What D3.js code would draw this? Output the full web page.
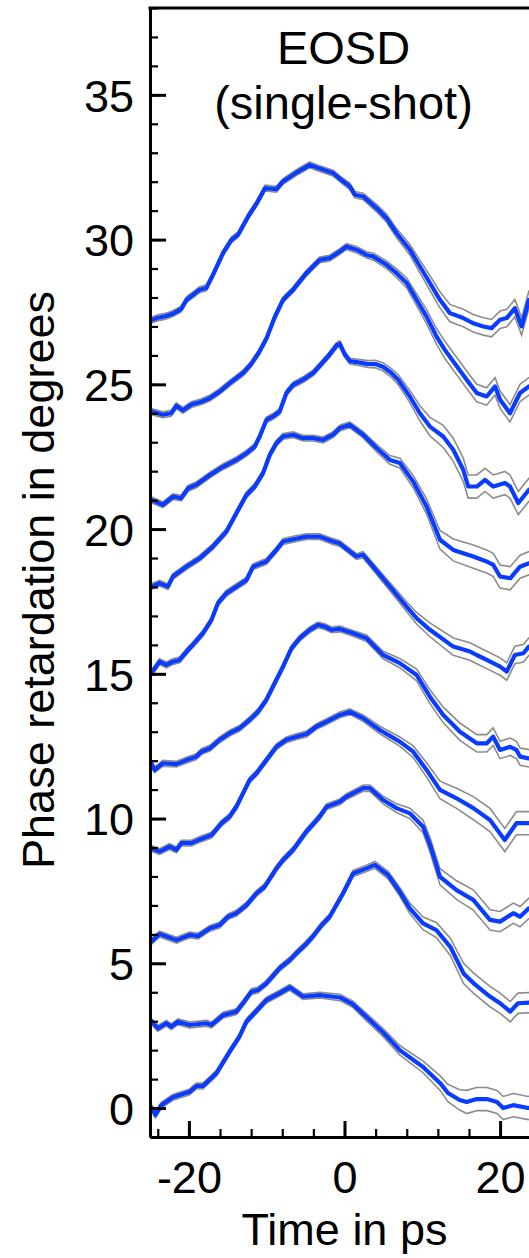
<!DOCTYPE html>
<html>
<head>
<meta charset="utf-8">
<script src="https://cdn.jsdelivr.net/npm/d3@7"></script>
<style>
  body { margin: 0; background: #fff; }
  svg { display: block; font-family: "Liberation Sans", Arial, Helvetica, sans-serif; }
  .axis path, .axis line { stroke: #000; }
  .axis text { font-size: 45px; fill: #000; font-family: "Liberation Sans", Arial, Helvetica, sans-serif; }
  .label { font-size: 45px; fill: #000; }
  .title { font-size: 47px; fill: #000; }
  .env { fill: none; stroke: #8c8c8c; stroke-width: 1.6; }
  .trace { fill: none; stroke: #0a3cff; stroke-width: 4.2; stroke-linejoin: round; }
</style>
</head>
<body>
<script>
// each trace: [time in ps, phase in degrees, half width of grey band]
// traces are stacked with 3 degree offsets (already included)
const trace0 = [[-25,0.05,0.1],[-24.76,-0.01,0.1],[-24.3,-0.24,0.1],[-23.55,0.1,0.1],[-22.06,0.37,0.1],[-19.9,0.56,0.1],[-19.05,0.76,0.1],[-18.2,0.76,0.1],[-16.47,1.2,0.1],[-14.76,1.95,0.1],[-13.5,2.47,0.1],[-12.6,2.99,0.1],[-11.1,3.42,0.1],[-10.04,3.73,0.1],[-8.33,3.97,0.1],[-7.04,4.17,0.1],[-5.33,3.85,0.1],[-3.18,3.9,0.1],[-0.6,3.82,0.11],[1,3.6,0.11],[3,3.1,0.13],[5,2.6,0.14],[7.1,2.0,0.16],[10.1,1.42,0.2],[12.3,0.86,0.25],[13.3,0.52,0.3],[14.8,0.28,0.35],[15.7,0.21,0.4],[17.0,0.31,0.4],[18.3,0.31,0.4],[19.6,0.21,0.4],[20.4,0.0,0.4],[21.7,0.1,0.4],[23.6,0.0,0.4],[24.5,0.05,0.4]];
const trace1 = [[-25,3.0,0.1],[-24.76,2.98,0.1],[-23.99,2.75,0.1],[-22.9,2.93,0.1],[-22.26,2.81,0.1],[-21.4,2.98,0.1],[-19.9,2.87,0.1],[-17.76,2.93,0.1],[-17.1,2.87,0.1],[-15.6,3.21,0.1],[-13.9,3.33,0.1],[-13.05,3.62,0.1],[-11.97,4.02,0.1],[-11.1,4.08,0.1],[-10.04,4.31,0.1],[-8.33,4.83,0.1],[-7.04,5.11,0.1],[-6,5.4,0.1],[-5,5.65,0.1],[-4,5.95,0.1],[-3,6.3,0.1],[-1.9,6.61,0.1],[-0.18,7.42,0.1],[1.1,8.1,0.11],[2.83,8.28,0.11],[3.9,8.4,0.12],[5.6,8.05,0.13],[7.1,7.47,0.15],[8.4,6.9,0.18],[10.1,6.38,0.22],[11.8,6.15,0.26],[13.6,5.57,0.3],[15.3,4.65,0.35],[16.6,4.31,0.35],[18.7,3.85,0.35],[20.0,3.62,0.35],[21.3,3.33,0.35],[22.3,3.62,0.35],[23.7,3.64,0.35],[24.5,3.6,0.35]];
const trace2 = [[-25,5.8,0.1],[-24.84,5.75,0.1],[-23.77,6.01,0.1],[-21.6,5.8,0.1],[-19.9,5.98,0.1],[-18.8,5.94,0.1],[-17.3,6.21,0.1],[-16.05,6.32,0.1],[-14.98,6.61,0.1],[-13.9,6.73,0.1],[-12.6,7.01,0.1],[-11.3,7.42,0.1],[-10.26,7.65,0.1],[-8.75,8.28,0.1],[-7.9,8.57,0.1],[-6.6,8.92,0.1],[-4.9,9.55,0.1],[-3.18,10.07,0.1],[-2.3,10.41,0.1],[-0.6,10.58,0.1],[0.26,10.76,0.1],[2.4,11.05,0.11],[3.26,11.05,0.11],[4.97,10.64,0.13],[6.69,10.36,0.15],[8.4,10.18,0.18],[10.1,9.72,0.22],[11.0,9.09,0.25],[12.27,7.99,0.28],[14.4,7.53,0.32],[16.55,7.19,0.35],[18.7,6.5,0.35],[20.0,6.44,0.35],[21.7,6.73,0.35],[22.56,6.61,0.35],[23.7,6.9,0.35],[24.5,6.9,0.35]];
const trace3 = [[-25,9.0,0.1],[-24.84,8.97,0.1],[-23.77,8.86,0.1],[-22.5,9.03,0.1],[-21.6,8.92,0.1],[-20.98,9.15,0.1],[-19.7,9.15,0.1],[-18.6,9.28,0.1],[-17.1,9.43,0.1],[-15.8,9.84,0.1],[-14.76,10.07,0.1],[-13.9,10.41,0.1],[-13.05,10.87,0.1],[-12.19,11.33,0.1],[-11.33,11.56,0.1],[-10.04,12.02,0.1],[-8.75,12.48,0.1],[-7.47,12.72,0.1],[-6.18,12.83,0.1],[-4.89,12.92,0.1],[-3.6,13.18,0.1],[-2.3,13.35,0.1],[-0.6,13.58,0.1],[0.68,13.69,0.1],[2.39,13.47,0.11],[4.54,13.06,0.13],[7.1,12.66,0.16],[8.83,12.31,0.2],[10.55,11.68,0.25],[12.27,10.99,0.3],[14.4,10.7,0.35],[16.56,10.36,0.4],[18.7,9.95,0.4],[20.6,9.26,0.4],[22.1,9.84,0.4],[23.7,9.84,0.4],[24.5,9.8,0.4]];
const trace4 = [[-25,11.95,0.1],[-24.84,11.91,0.1],[-24.4,11.68,0.1],[-23.35,11.91,0.1],[-21.6,11.88,0.1],[-20.3,12.02,0.1],[-19.05,12.14,0.1],[-18.4,12.31,0.1],[-17.3,12.43,0.1],[-16.05,12.72,0.1],[-14.76,12.95,0.1],[-13.48,13.12,0.1],[-12.19,13.41,0.1],[-11.12,13.69,0.1],[-10.04,14.1,0.1],[-9.19,14.56,0.1],[-7.9,15.25,0.1],[-6.82,15.88,0.1],[-5.75,16.23,0.1],[-4.47,16.52,0.1],[-3.4,16.69,0.1],[-2.54,16.63,0.1],[-1.67,16.52,0.1],[-0.6,16.55,0.1],[1.1,16.4,0.1],[2.83,16.23,0.11],[4.97,15.65,0.13],[7.1,15.37,0.16],[9.27,14.96,0.2],[10.98,14.21,0.24],[12.69,13.58,0.27],[14.84,13.0,0.3],[17.0,12.6,0.3],[18.3,12.6,0.3],[19.1,12.83,0.3],[20.0,12.37,0.3],[21.3,12.48,0.3],[22.1,12.37,0.3],[22.56,12.14,0.3],[23.7,12.08,0.3],[24.5,12.1,0.3]];
const trace5 = [[-25,15.05,0.1],[-24.84,15.02,0.1],[-23.77,15.42,0.1],[-22.9,15.31,0.1],[-22.05,15.42,0.1],[-21.2,15.48,0.1],[-20.1,15.83,0.1],[-19.5,16.0,0.1],[-18.2,16.4,0.1],[-17.1,16.86,0.1],[-16.27,17.44,0.1],[-15.19,17.78,0.1],[-13.9,18.01,0.1],[-12.6,18.24,0.1],[-11.76,18.7,0.1],[-10.04,18.88,0.1],[-8.75,19.28,0.1],[-7.9,19.57,0.1],[-6.6,19.65,0.1],[-4.89,19.74,0.1],[-3.18,19.74,0.1],[-1.47,19.57,0.1],[-0.6,19.5,0.1],[1.54,19.05,0.1],[2.39,19.11,0.11],[3.68,18.7,0.12],[5.83,18.01,0.14],[7.98,17.32,0.17],[9.27,16.92,0.2],[10.98,16.52,0.24],[13.98,15.94,0.3],[16.13,15.77,0.3],[16.99,15.65,0.3],[18.28,15.48,0.3],[20.0,15.25,0.3],[20.85,15.08,0.3],[21.9,15.65,0.3],[22.99,15.71,0.3],[23.7,15.94,0.3],[24.5,15.9,0.3]];
const trace6 = [[-25,18.0,0.1],[-24.84,18.01,0.1],[-23.77,18.13,0.1],[-22.7,18.01,0.1],[-22.06,18.36,0.1],[-20.33,18.7,0.1],[-18.62,18.99,0.1],[-16.91,19.4,0.1],[-15.19,19.91,0.1],[-13.9,20.55,0.1],[-12.61,21.18,0.1],[-11.54,21.47,0.1],[-10.48,21.93,0.1],[-9.61,22.56,0.1],[-8.75,22.97,0.1],[-7.9,23.2,0.1],[-6.6,23.26,0.1],[-5.33,23.14,0.1],[-4.04,23.14,0.1],[-2.75,23.08,0.1],[-1.47,23.26,0.1],[-0.6,23.49,0.1],[0.68,23.6,0.1],[2.39,23.26,0.11],[4.12,22.8,0.13],[5.83,22.39,0.15],[7.12,22.28,0.17],[8.83,21.64,0.21],[10.55,20.78,0.26],[12.27,19.63,0.32],[13.98,19.28,0.38],[16.55,19.05,0.4],[18.27,18.88,0.4],[19.13,18.76,0.4],[19.99,18.36,0.4],[21.3,18.3,0.4],[22.56,18.7,0.4],[23.7,18.82,0.4],[24.5,18.8,0.4]];
const trace7 = [[-25,21.0,0.1],[-24.84,21.01,0.1],[-23.35,20.84,0.1],[-22.05,21.12,0.1],[-20.98,21.07,0.1],[-20.1,21.41,0.1],[-19.05,21.53,0.1],[-17.3,21.87,0.1],[-15.58,22.16,0.1],[-13.9,22.39,0.1],[-12.6,22.62,0.1],[-11.54,22.85,0.1],[-10.9,23.2,0.1],[-10.04,23.77,0.1],[-9.19,23.89,0.1],[-8.33,24.06,0.1],[-7.47,24.7,0.1],[-6.6,24.98,0.1],[-5.33,25.16,0.1],[-4,25.4,0.1],[-3,25.7,0.1],[-2,26.0,0.1],[-1,26.35,0.1],[-0.6,26.4,0.1],[0,26.05,0.1],[0.7,25.8,0.1],[2,25.75,0.11],[3,25.7,0.12],[4,25.7,0.13],[5,25.6,0.14],[6,25.4,0.15],[6.9,25.16,0.17],[8.4,24.58,0.21],[9.69,24.0,0.26],[10.98,23.54,0.32],[12.69,23.2,0.38],[13.98,22.74,0.4],[15.26,22.05,0.4],[15.9,21.47,0.4],[17.0,21.47,0.4],[18.06,21.7,0.4],[19.12,21.47,0.4],[20.63,21.59,0.4],[21.27,21.47,0.4],[22.34,20.9,0.4],[23.72,21.36,0.4],[24.5,21.3,0.4]];
const trace8 = [[-25,24.05,0.1],[-24.84,24.06,0.1],[-23.35,23.95,0.1],[-22.27,24.0,0.1],[-21.62,24.26,0.1],[-20.77,24.1,0.1],[-19.69,24.3,0.1],[-18.4,24.4,0.1],[-17.33,24.52,0.1],[-16.05,24.75,0.1],[-14.76,25.04,0.1],[-13,25.4,0.1],[-12,25.7,0.1],[-11,26.1,0.1],[-10,26.6,0.1],[-9,27.3,0.1],[-7.9,27.92,0.1],[-6.6,28.27,0.1],[-4.9,28.84,0.1],[-3.18,29.3,0.1],[-1.9,29.36,0.1],[-0.6,29.59,0.1],[0.26,29.76,0.1],[1.54,29.65,0.11],[2.83,29.47,0.11],[3.68,29.42,0.12],[5.4,29.13,0.13],[6.7,28.84,0.15],[8.0,28.5,0.17],[9.27,27.92,0.2],[10.55,27.34,0.24],[11.84,26.65,0.27],[12.9,26.19,0.3],[15.7,25.16,0.3],[17.0,24.7,0.3],[18.27,24.58,0.3],[19.35,24.93,0.3],[20.0,24.47,0.3],[21.27,24.0,0.3],[22.56,24.7,0.3],[23.7,24.93,0.3],[24.5,24.9,0.3]];
const trace9 = [[-25,27.2,0.1],[-24,27.3,0.1],[-23,27.35,0.1],[-22,27.45,0.1],[-21,27.6,0.1],[-20.3,27.92,0.1],[-18.62,28.27,0.1],[-17.76,28.33,0.1],[-16.91,28.78,0.1],[-15.62,29.53,0.1],[-14.54,29.99,0.1],[-13.68,30.17,0.1],[-12.38,30.8,0.1],[-11.27,31.26,0.1],[-10.2,31.78,0.1],[-8.75,31.74,0.1],[-7.9,32.01,0.1],[-5.97,32.35,0.1],[-4.47,32.58,0.1],[-3.4,32.47,0.1],[-1.47,32.3,0.1],[-0.6,32.1,0.1],[0.68,31.84,0.11],[1.33,31.55,0.11],[2.39,31.49,0.11],[4.12,31.09,0.13],[5.4,30.74,0.14],[6.7,30.22,0.16],[8.4,29.65,0.18],[9.7,29.07,0.22],[10.98,28.5,0.25],[12.27,27.92,0.28],[13.55,27.46,0.3],[15.26,27.29,0.3],[16.55,27.11,0.3],[17.84,27.0,0.3],[18.9,26.94,0.3],[19.99,27.23,0.3],[20.85,27.29,0.3],[21.9,27.63,0.3],[22.77,27.0,0.3],[23.7,27.92,0.3],[24.5,27.9,0.3]];

const traces = [trace0, trace1, trace2, trace3, trace4, trace5, trace6, trace7, trace8, trace9];

const yMajorTicks = [0, 5, 10, 15, 20, 25, 30, 35];
const yMinorTicks = [-1,0,1,2,3,4,5,6,7,8,9,10,11,12,13,14,15,16,17,18,19,20,21,22,23,24,25,26,27,28,29,30,31,32,33,34,35,36,37,38];
const xMajorTicks = [-20, 0, 20];
const xMinorTicks = [-24, -20, -16, -12, -8, -4, 0, 4, 8, 12, 16, 20, 24];

const titleLines = ["EOSD", "(single-shot)"];

let W = 529, H = 1258;
let svg = d3.select("body").append("svg")
  .attr("width", W)
  .attr("height", H);

let xScale = d3.scaleLinear().domain([-25, 25]).range([150, 539]);
let yScale = d3.scaleLinear().domain([-1, 38]).range([1137, 8]);

let upper = d3.line()
  .x(function(d) { return xScale(d[0]); })
  .y(function(d) { return yScale(d[1] + d[2]); });
let lower = d3.line()
  .x(function(d) { return xScale(d[0]); })
  .y(function(d) { return yScale(d[1] - d[2]); });
let line = d3.line()
  .x(function(d) { return xScale(d[0]); })
  .y(function(d) { return yScale(d[1]); });

// grey bands first, blue on top
traces.forEach(function(tr) {
  svg.append("path").datum(tr).attr("class", "env").attr("d", upper);
  svg.append("path").datum(tr).attr("class", "env").attr("d", lower);
});
traces.forEach(function(tr) {
  svg.append("path").datum(tr).attr("class", "trace").attr("d", line);
});

// plain hyphen like the original, not the unicode minus
let intFormat = function(d) { return String(d); };

// y axis: minor + major ticks, pointing inward
svg.append("g")
  .attr("class", "axis")
  .attr("transform", "translate(150,0)")
  .call(d3.axisLeft(yScale).tickValues(yMinorTicks).tickSize(-8).tickSizeOuter(0).tickFormat(""))
  .call(g => g.select(".domain").remove())
  .selectAll("line").attr("stroke-width", 2.2);

svg.append("g")
  .attr("class", "axis")
  .attr("transform", "translate(150,0)")
  .call(d3.axisLeft(yScale).tickValues(yMajorTicks).tickSize(-16).tickSizeOuter(0).tickPadding(16).tickFormat(intFormat))
  .call(g => g.select(".domain").attr("stroke-width", 3))
  .call(g => g.selectAll("line").attr("stroke-width", 3))
  .call(g => g.selectAll("text").attr("dy", "0.36em"));

// x axis
svg.append("g")
  .attr("class", "axis")
  .attr("transform", "translate(0,1137)")
  .call(d3.axisBottom(xScale).tickValues(xMinorTicks).tickSize(-8).tickSizeOuter(0).tickFormat(""))
  .call(g => g.select(".domain").remove())
  .selectAll("line").attr("stroke-width", 2.2);

svg.append("g")
  .attr("class", "axis")
  .attr("transform", "translate(0,1137)")
  .call(d3.axisBottom(xScale).tickValues(xMajorTicks).tickSize(-16).tickSizeOuter(0).tickPadding(24).tickFormat(intFormat))
  .call(g => g.select(".domain").attr("stroke-width", 3))
  .call(g => g.selectAll("line").attr("stroke-width", 3))
  .call(g => g.selectAll("text").attr("dy", "0.71em"));

// top frame
svg.append("line")
  .attr("x1", xScale(-25) - 1.5).attr("x2", xScale(25))
  .attr("y1", yScale(38)).attr("y2", yScale(38))
  .attr("stroke", "#000").attr("stroke-width", 3);

// title
svg.selectAll(".title")
  .data(titleLines)
  .enter().append("text")
  .attr("class", "title")
  .attr("x", xScale(0) - 1)
  .attr("y", function(d, i) { return 64 + i * 55; })
  .attr("text-anchor", "middle")
  .text(function(d) { return d; });

// axis labels
svg.append("text")
  .attr("class", "label")
  .attr("transform", "rotate(-90)")
  .attr("x", -580)
  .attr("y", 54)
  .attr("text-anchor", "middle")
  .text("Phase retardation in degrees");

svg.append("text")
  .attr("class", "label")
  .attr("x", xScale(0))
  .attr("y", 1245)
  .attr("text-anchor", "middle")
  .text("Time in ps");
</script>
</body>
</html>
